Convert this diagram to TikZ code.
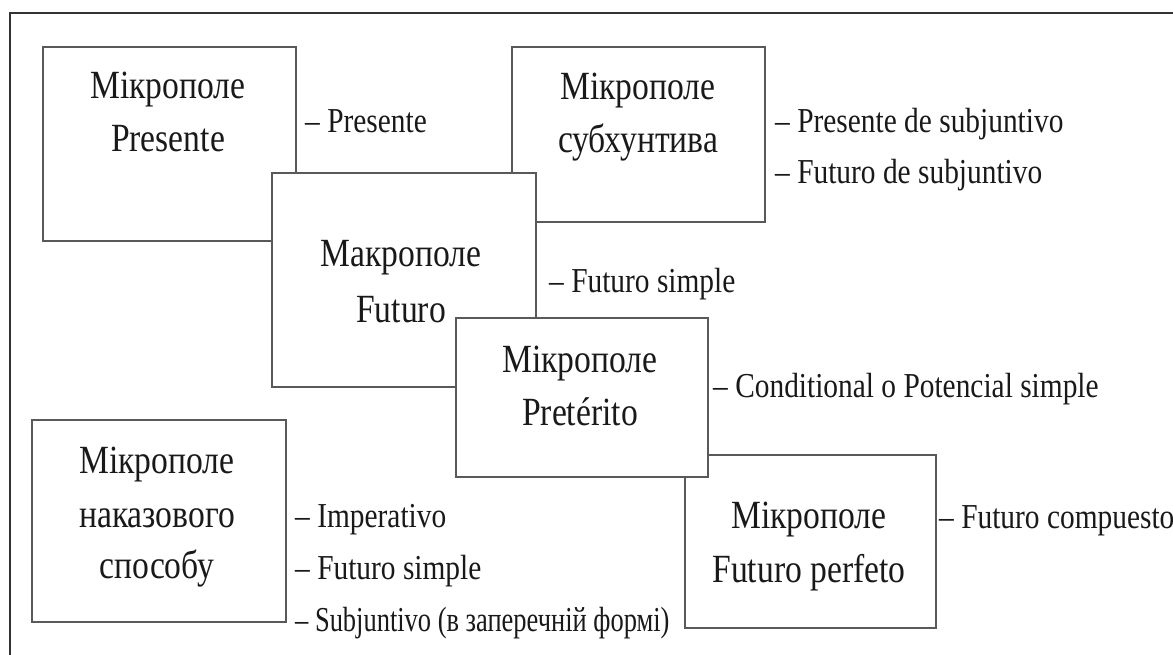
\documentclass[tikz,border=0pt]{standalone}
\usepackage{fontspec}
\setmainfont[FakeStretch=0.84]{Liberation Serif}
\begin{document}
\begin{tikzpicture}[x=1pt,y=-1pt,
  box/.style={draw=black!65, line width=2pt, fill=white, inner sep=0pt, outer sep=0pt, anchor=north west},
  bt/.style={font=\fontsize{40}{48}\selectfont, text=black!90, anchor=base, inner sep=0pt},
  lb/.style={font=\fontsize{35}{42}\selectfont, text=black!90, anchor=base west, inner sep=0pt}]
\useasboundingbox (0,0) rectangle (1173,655);
\draw[line width=1.5pt, black!80] (10,655) -- (10,13) -- (1173,13);

% Box A
\node[box, minimum width=253pt, minimum height=194pt] (A) at (43,47) {};
\node[bt] (A1) at (168,99) {Мікрополе};
\node[bt] (A2) at (168,152) {Presente};
% Box B
\node[box, minimum width=253pt, minimum height=175pt] (B) at (512,47) {};
\node[bt] (B1) at (638,100) {Мікрополе};
\node[bt] (B2) at (638,153) {субхунтива};
% Box C
\node[box, minimum width=264pt, minimum height=214pt] (C) at (272,173) {};
\node[bt] (C1) at (401,267) {Макрополе};
\node[bt] (C2) at (401,322) {Futuro};
% Box F
\node[box, minimum width=251pt, minimum height=173pt] (F) at (685,455) {};
\node[bt] (F1) at (809,528) {Мікрополе};
\node[bt] (F2) at (809,582) {Futuro perfeto};
% Box D
\node[box, minimum width=252pt, minimum height=159pt] (D) at (456,318) {};
\node[bt] (D1) at (580,372) {Мікрополе};
\node[bt] (D2) at (580,425) {Pretérito};
% Box E
\node[box, minimum width=254pt, minimum height=202pt] (E) at (32,420) {};
\node[bt] (E1) at (157,473) {Мікрополе};
\node[bt] (E2) at (157,527) {наказового};
\node[bt] (E3) at (157,578) {способу};

% Labels
\node[lb] (LA) at (305,133) {– Presente};
\node[lb] (LB1) at (775,133) {– Presente de subjuntivo};
\node[lb] (LB2) at (775,184) {– Futuro de subjuntivo};
\node[lb] (LC) at (549,292) {– Futuro simple};
\node[lb] (LD) at (713,397) {– Conditional o Potencial simple};
\node[lb] (LF) at (939,528) {– Futuro compuesto};
\node[lb] (LE1) at (295,527) {– Imperativo};
\node[lb] (LE2) at (295,579) {– Futuro simple};
\node[lb] (LE3) at (295,631) {\scalebox{0.9}[1]{– Subjuntivo (в заперечній формі)}};
\end{tikzpicture}
\end{document}
